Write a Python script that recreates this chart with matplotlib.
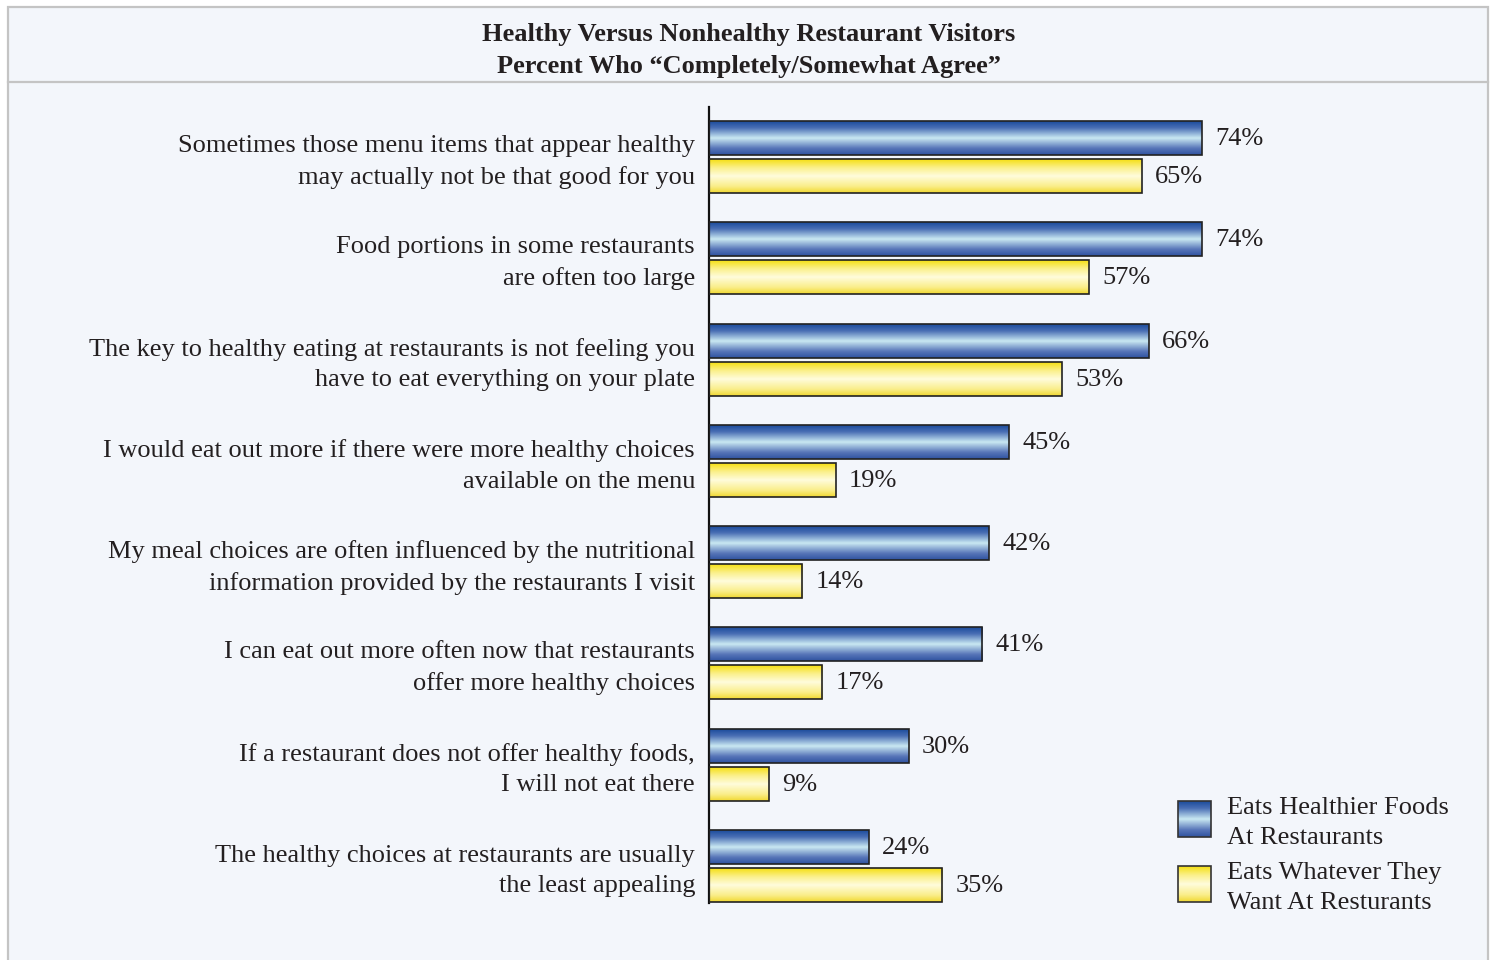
import numpy as np
import matplotlib.pyplot as plt
from matplotlib.patches import Rectangle
from matplotlib.colors import LinearSegmentedColormap

plt.rcParams['font.family'] = ['Liberation Serif', 'DejaVu Serif']

# Data
statements = [
    "Sometimes those menu items that appear healthy\nmay actually not be that good for you",
    "Food portions in some restaurants\nare often too large",
    "The key to healthy eating at restaurants is not feeling you\nhave to eat everything on your plate",
    "I would eat out more if there were more healthy choices\navailable on the menu",
    "My meal choices are often influenced by the nutritional\ninformation provided by the restaurants I visit",
    "I can eat out more often now that restaurants\noffer more healthy choices",
    "If a restaurant does not offer healthy foods,\nI will not eat there",
    "The healthy choices at restaurants are usually\nthe least appealing",
]
healthier = [74, 74, 66, 45, 42, 41, 30, 24]
whatever = [65, 57, 53, 19, 14, 17, 9, 35]
series_names = ["Eats Healthier Foods\nAt Restaurants", "Eats Whatever They\nWant At Resturants"]
title = "Healthy Versus Nonhealthy Restaurant Visitors\nPercent Who \u201cCompletely/Somewhat Agree\u201d"

TXT = '#231f20'
BG = '#f3f6fb'
FS = 19
LS = 1.5

blue_cmap = LinearSegmentedColormap.from_list('blue', [
    (0.0, '#1b4b9b'), (0.2, '#4a6fb5'), (0.5, '#c9e8f2'), (0.8, '#5876b9'), (1.0, '#2f529f')])
yellow_cmap = LinearSegmentedColormap.from_list('yellow', [
    (0.0, '#f5df10'), (0.25, '#fbf08a'), (0.5, '#fffcdc'), (0.8, '#faee8a'), (1.0, '#f0d830')])
grad = np.linspace(0, 1, 256).reshape(-1, 1)

W, H = 1494, 960
fig = plt.figure(figsize=(W / 100, H / 100), dpi=100)
fig.patch.set_facecolor('white')

# background / frame in pixel coordinates
bg = fig.add_axes([0, 0, 1, 1], zorder=0)
bg.set_xlim(0, W)
bg.set_ylim(H, 0)
bg.axis('off')
bg.add_patch(Rectangle((8, 7), 1480, 970, facecolor=BG, edgecolor='#c4c4c4', lw=1.6))
bg.plot([8, 1488], [82, 82], color='#c4c4c4', lw=1.6)
bg.text(749, 50, title, ha='center', va='center', fontsize=FS, fontweight='bold',
        color=TXT, linespacing=LS)

# legend
for i, (name, cmap) in enumerate(zip(series_names, [blue_cmap, yellow_cmap])):
    y0 = 801 + i * 65
    bg.imshow(grad, cmap=cmap, aspect='auto', extent=(1178, 1211, y0 + 36, y0), zorder=2)
    bg.add_patch(Rectangle((1178, y0), 33, 36, facecolor='none', edgecolor='#333333', lw=1.2, zorder=3))
    bg.text(1227, y0 + 22, name, ha='left', va='center', fontsize=FS, color=TXT, linespacing=LS)

# main axes
left, right = 709, 1375
top, bottom = 107, 903
ax = fig.add_axes([left / W, 1 - bottom / H, (right - left) / W, (bottom - top) / H], zorder=1)
ax.patch.set_alpha(0)
pitch = 101.3

ypos = np.arange(len(statements))
h = 34 / pitch
off = 19 / pitch
b1 = ax.barh(ypos - off, healthier, height=h, facecolor='none', edgecolor='#222222', lw=1.2, zorder=3)
b2 = ax.barh(ypos + off, whatever, height=h, facecolor='none', edgecolor='#222222', lw=1.2, zorder=3)

for bars, cmap, vals in [(b1, blue_cmap, healthier), (b2, yellow_cmap, whatever)]:
    for p, v in zip(bars.patches, vals):
        x0, yb, w, hh = p.get_x(), p.get_y(), p.get_width(), p.get_height()
        ax.imshow(grad, cmap=cmap, aspect='auto', extent=(x0, x0 + w, yb + hh, yb), zorder=2)
        ax.text(v + 2.0, yb + hh / 2 + 1 / pitch, f"{v}%", ha='left', va='center', fontsize=FS, color=TXT)

ax.set_xlim(0, 100)
ax.set_ylim(7 + 37 / pitch, -50 / pitch)

for i, s in enumerate(statements):
    ax.text(-2.1, i + 5 / pitch, s, ha='right', va='center', fontsize=FS, color=TXT,
            multialignment='right', linespacing=LS)

for sp in ['top', 'right', 'bottom']:
    ax.spines[sp].set_visible(False)
ax.spines['left'].set_linewidth(1.6)
ax.spines['left'].set_color('#111111')
ax.set_xticks([])
ax.set_yticks([])

fig.savefig('out.png', dpi=100, facecolor=fig.get_facecolor())
